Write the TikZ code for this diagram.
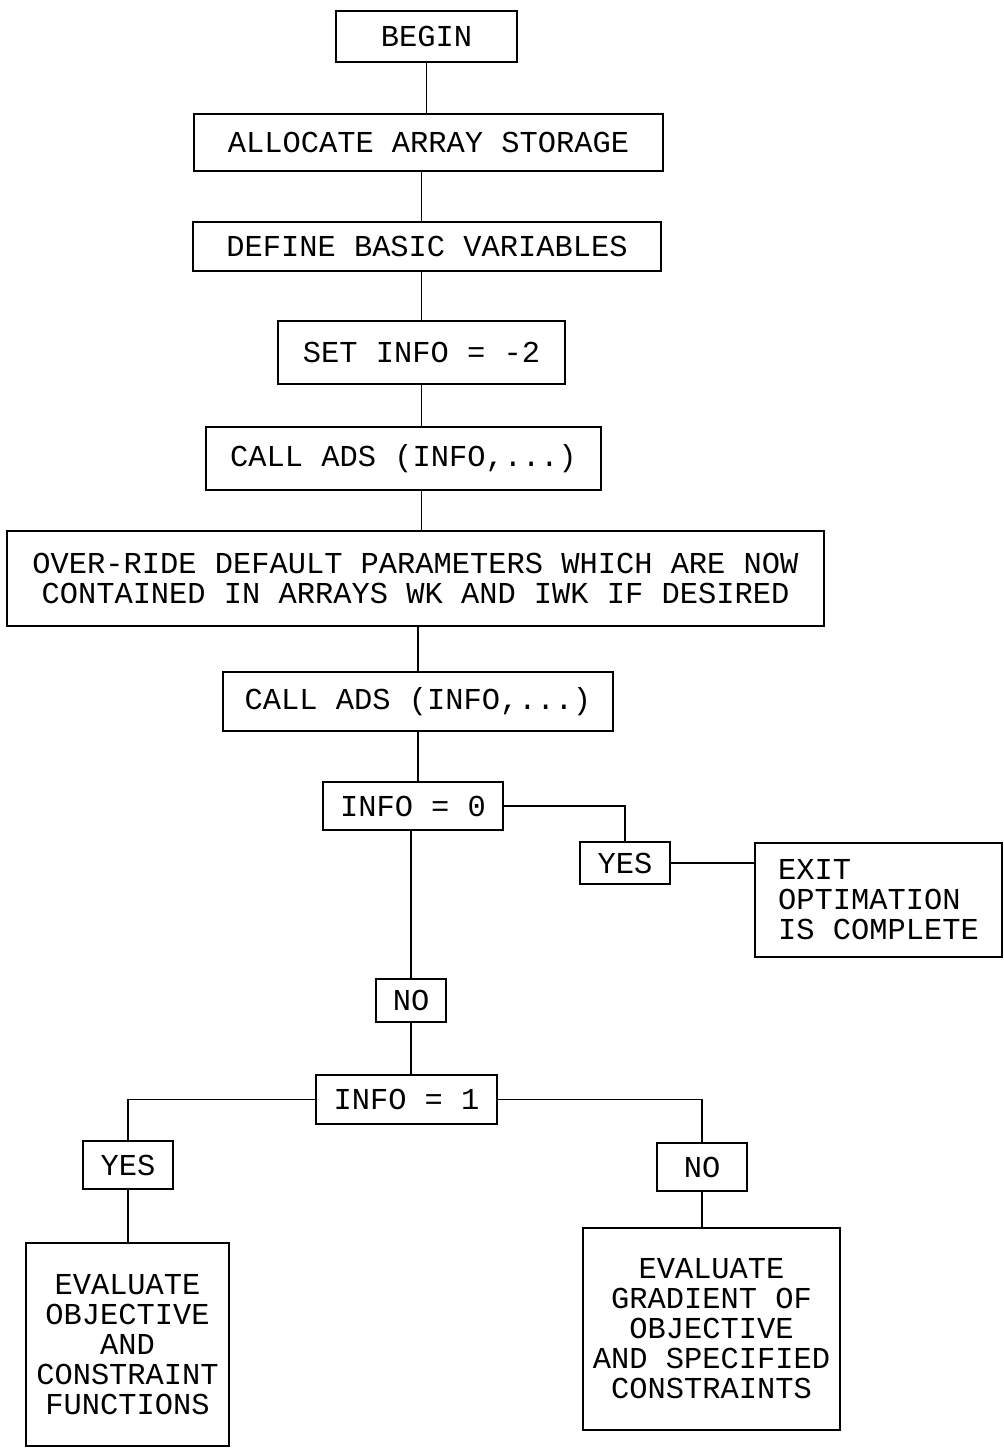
\documentclass[tikz,border=0pt]{standalone}
\usepackage{fontspec}
\setmonofont{Liberation Mono}

\begin{document}
\begin{tikzpicture}[%
  x=0.02cm, y=-0.02cm,
  box/.style={draw, line width=1.5pt, inner sep=0pt, align=center,
    font=\ttfamily\fontsize{17.3}{17.1}\selectfont},
  size/.style 2 args={minimum width=#1*0.02cm, minimum height=#2*0.02cm},
  link/.style={line width=1pt}]
  \useasboundingbox (0,0) rectangle (1004,1448);
  \node[box, size={181}{51}]  (begin)    at (426.5,36.5) {BEGIN};
  \node[box, size={469}{57}]  (alloc)    at (428.5,142.5) {ALLOCATE ARRAY STORAGE};
  \node[box, size={468}{49}]  (define)   at (427,246.5) {DEFINE BASIC VARIABLES};
  \node[box, size={287}{63}]  (setinfo)  at (421.5,352.5) {SET INFO = -2};
  \node[box, size={395}{63}]  (callA)    at (403.5,458.5) {CALL ADS (INFO,...)};
  \node[box, size={817}{95}]  (override) at (415.5,578.5)
    {OVER-RIDE DEFAULT PARAMETERS WHICH ARE NOW\\CONTAINED IN ARRAYS WK AND IWK IF DESIRED};
  \node[box, size={390}{59}]  (callB)    at (418,701.5) {CALL ADS (INFO,...)};
  \node[box, size={180}{48}]  (infozero) at (413,806) {INFO = 0};
  \node[box, size={90}{42}]   (yesA)     at (625,863) {YES};
  \node[box, size={247}{114}, align=left] (exit) at (878.5,900)
    {EXIT\\OPTIMATION\\IS COMPLETE};
  \node[box, size={70}{43}]   (noA)      at (411,1000.5) {NO};
  \node[box, size={181}{49}]  (infoone)  at (406.5,1099.5) {INFO = 1};
  \node[box, size={90}{48}]   (yesB)     at (128,1165) {YES};
  \node[box, size={90}{48}]   (noB)      at (702,1167) {NO};
  \node[box, size={203}{203}] (evalobj)  at (127.5,1344.5)
    {EVALUATE\\OBJECTIVE\\AND\\CONSTRAINT\\FUNCTIONS};
  \node[box, size={257}{202}] (evalgrad) at (711.5,1329)
    {EVALUATE\\GRADIENT OF\\OBJECTIVE\\AND SPECIFIED\\CONSTRAINTS};

  % main line
  \draw[link] (begin.south) -- (begin.south |- alloc.north);
  \draw[link] (setinfo.north |- alloc.south) -- (setinfo.north |- define.north);
  \draw[link] (setinfo.north) -- (setinfo.north |- define.south);
  \draw[link] (setinfo.south) -- (setinfo.south |- callA.north);
  \draw[link] (setinfo.south |- callA.south) -- (setinfo.south |- override.north);
  \draw[link] (callB.north) -- (callB.north |- override.south);
  \draw[link] (callB.south) -- (callB.south |- infozero.north);
  \draw[link] (noA.north |- infozero.south) -- (noA.north);
  \draw[link] (noA.south) -- (noA.south |- infoone.north);
  % branches
  \draw[link] (infozero.east) -| (yesA.north);
  \draw[link] (yesA.east) -- (exit.west |- yesA.east);
  \draw[link] (infoone.west) -| (yesB.north);
  \draw[link] (infoone.east) -| (noB.north);
  \draw[link] (yesB.south) -- (yesB.south |- evalobj.north);
  \draw[link] (noB.south) -- (noB.south |- evalgrad.north);
\end{tikzpicture}
\end{document}
